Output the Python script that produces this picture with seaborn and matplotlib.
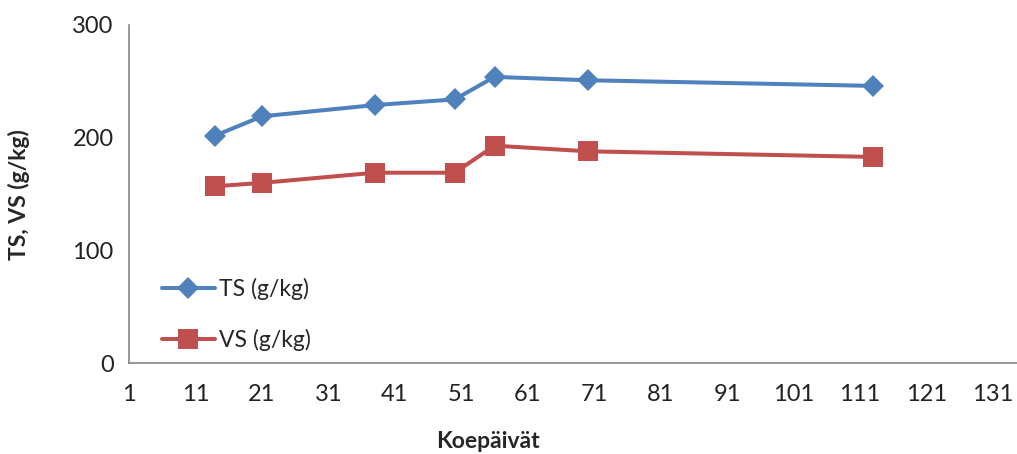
import matplotlib
matplotlib.use("Agg")
import matplotlib.pyplot as plt
import seaborn as sns
import pandas as pd

days = [14, 21, 38, 50, 56, 70, 113]
ts_values = [202, 219, 229, 234, 254, 251, 246]
vs_values = [157, 160, 169, 169, 193, 188, 183]
series_names = ["TS (g/kg)", "VS (g/kg)"]
x_ticks = list(range(1, 132, 10))
y_ticks = [0, 100, 200, 300]

sns.set_style("white")
plt.rcParams['font.family'] = ['Lato', 'DejaVu Sans']

df = pd.DataFrame({
    "day": days * 2,
    "value": ts_values + vs_values,
    "series": [series_names[0]] * len(days) + [series_names[1]] * len(days),
})

fig = plt.figure(figsize=(10.17, 4.54), dpi=100)
ax = fig.add_axes([129/1017, 90.7/454, (1017-129)/1017, (363.3-25)/454])

palette = {series_names[0]: "#4F81BD", series_names[1]: "#C0504D"}
markers = {series_names[0]: "D", series_names[1]: "s"}
sizes_ms = {series_names[0]: 11.5, series_names[1]: 14}
for name in series_names:
    sub = df[df["series"] == name]
    sns.lineplot(data=sub, x="day", y="value", ax=ax, color=palette[name],
                 marker=markers[name], markersize=sizes_ms[name],
                 markeredgewidth=0, linewidth=2.9, label=name)

ax.set_xlim(1, 134.6)
ax.set_ylim(0, 300)
ax.set_xticks(x_ticks)
ax.set_yticks(y_ticks)
ax.tick_params(axis="both", labelsize=17, colors="#868686", labelcolor="#222222",
               direction="out", length=6, width=1)
ax.tick_params(axis="x", pad=9)
ax.tick_params(axis="y", pad=5)
for s in ["top", "right"]:
    ax.spines[s].set_visible(False)
for s in ["left", "bottom"]:
    ax.spines[s].set_color("#868686")
    ax.spines[s].set_linewidth(1.2)

ax.set_xlabel("Koepäivät", fontsize=16.5, fontweight="bold")
ax.xaxis.set_label_coords(0.404, -0.20)
ax.set_ylabel("TS, VS (g/kg)", fontsize=16.5, fontweight="bold")
ax.yaxis.set_label_coords(-0.112, 0.5)

leg = ax.legend(loc="lower left", bbox_to_anchor=(0.014, -0.025), frameon=False,
                fontsize=16.5, handlelength=2.3, handletextpad=0.2, labelspacing=1.25)

fig.savefig("out.png", dpi=100)
